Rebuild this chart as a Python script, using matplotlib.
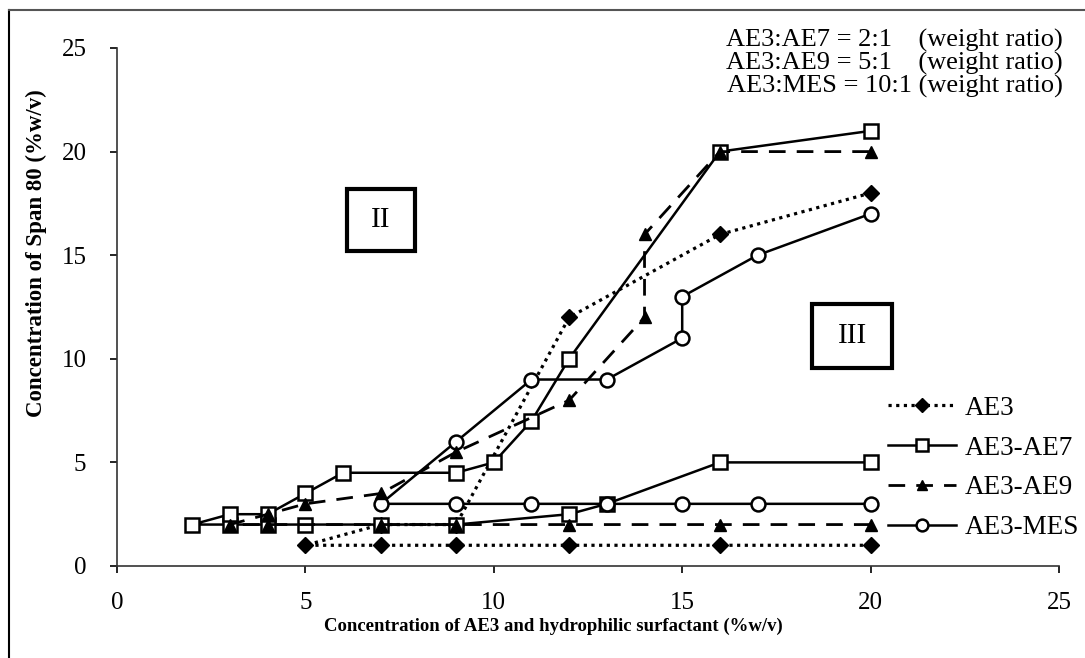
"""Phase diagram: Span 80 vs AE3 + hydrophilic surfactant."""
import matplotlib
matplotlib.use('Agg')
import matplotlib.pyplot as plt
from matplotlib.lines import Line2D
from matplotlib.patches import Rectangle

plt.rcParams['font.family'] = ['Liberation Serif', 'DejaVu Serif']

# AE3 alone (lower branch then upper branch)
ae3_x = [20, 16, 12, 9, 7, 5, 7, 9, 12, 16, 20]
ae3_y = [1, 1, 1, 1, 1, 1, 2, 2, 12, 16, 18]

# AE3-AE7 (2:1)
ae7_x = [20, 16, 13, 12, 9, 7, 5, 4, 3, 2, 3, 4, 5, 6, 9, 10, 11, 12, 16, 20]
ae7_y = [5, 5, 3, 2.5, 2, 2, 2, 2, 2, 2, 2.5, 2.5, 3.5, 4.5, 4.5, 5, 7, 10, 20, 21]

# AE3-AE9 (5:1)
ae9_x = [20, 16, 12, 9, 7, 4, 3, 4, 5, 7, 9, 12, 14, 14, 16, 20]
ae9_y = [2, 2, 2, 2, 2, 2, 2, 2.5, 3, 3.5, 5.5, 8, 12, 16, 20, 20]

# AE3-MES (10:1)
mes_x = [20, 17, 15, 13, 11, 9, 7, 9, 11, 13, 15, 15, 17, 20]
mes_y = [3, 3, 3, 3, 3, 3, 3, 6, 9, 9, 11, 13, 15, 17]

x_ticks = [0, 5, 10, 15, 20, 25]
y_ticks = [0, 5, 10, 15, 20, 25]

W, H = 1085, 658
fig = plt.figure(figsize=(W / 100, H / 100), dpi=100)
fig.patch.set_facecolor('white')
ax = fig.add_axes([117 / W, 1 - 566 / H, (1059 - 117) / W, (566 - 48) / H])

# outer frame (top and left visible)
fig.add_artist(Line2D([9 / W, 9 / W], [0, 1 - 10 / H], transform=fig.transFigure,
                      color='black', lw=1.5))
fig.add_artist(Line2D([9 / W, 1], [1 - 10 / H, 1 - 10 / H], transform=fig.transFigure,
                      color='#555555', lw=1.5))

ax.plot(ae3_x, ae3_y, color='black', lw=2.3, linestyle=(0, (1, 1.4)),
        marker='D', markersize=8.5, markerfacecolor='black', markeredgecolor='black',
        label='AE3', zorder=3)
ax.plot(ae7_x, ae7_y, color='black', lw=1.8, linestyle='-',
        marker='s', markersize=10, markerfacecolor='white', markeredgecolor='black',
        markeredgewidth=1.8, label='AE3-AE7', zorder=4)
ax.plot(ae9_x, ae9_y, color='black', lw=2.0, linestyle=(0, (6, 4)),
        marker='^', markersize=9, markerfacecolor='black', markeredgecolor='black',
        label='AE3-AE9', zorder=5)
ax.plot(mes_x, mes_y, color='black', lw=1.8, linestyle='-',
        marker='o', markersize=10, markerfacecolor='white', markeredgecolor='black',
        markeredgewidth=1.8, label='AE3-MES', zorder=4)

ax.set_xlim(0, 25)
ax.set_ylim(0, 25)
ax.set_xticks(x_ticks)
ax.set_yticks(y_ticks)
ax.spines['top'].set_visible(False)
ax.spines['right'].set_visible(False)
for s in ('left', 'bottom'):
    ax.spines[s].set_linewidth(1.2)
    ax.spines[s].set_color('#333333')
ax.tick_params(axis='both', direction='out', length=5, width=1.2, labelsize=18)
ax.tick_params(axis='y', pad=17)
ax.tick_params(axis='x', pad=14)

ax.set_xlabel('Concentration of AE3 and hydrophilic surfactant (%w/v)',
              fontsize=13.5, fontweight='bold')
ax.xaxis.set_label_coords(0.463, -0.100)
ax.set_ylabel('Concentration of Span 80 (%w/v)', fontsize=16.5, fontweight='bold')
ax.yaxis.set_label_coords(-0.074, 0.604)

# region labels
for (x0, x1, y0, y1, lab) in [(6.1, 7.91, 15.22, 18.21, 'II'),
                              (18.44, 20.58, 9.57, 12.66, 'III')]:
    ax.add_patch(Rectangle((x0, y0), x1 - x0, y1 - y0, facecolor='white',
                           edgecolor='black', lw=3, zorder=2))
    ax.text((x0 + x1) / 2, (y0 + y1) / 2, lab, ha='center', va='center',
            fontsize=21, zorder=2)

# ratio notes
notes = ['AE3:AE7 = 2:1    (weight ratio)',
         'AE3:AE9 = 5:1    (weight ratio)',
         'AE3:MES = 10:1 (weight ratio)']
for i, t in enumerate(notes):
    fig.text(1063 / W, 1 - (40 + 23 * i) / H, t, ha='right', va='center', fontsize=19)

leg = ax.legend(loc='center left', frameon=False,
                fontsize=19.5, handlelength=2.5, labelspacing=0.55, handletextpad=0.35,
                borderaxespad=0, borderpad=0, markerscale=0.85)
leg.set_bbox_to_anchor((888 / W, 1 - 468 / H), transform=fig.transFigure)

fig.savefig('out.png', dpi=100, facecolor='white')
